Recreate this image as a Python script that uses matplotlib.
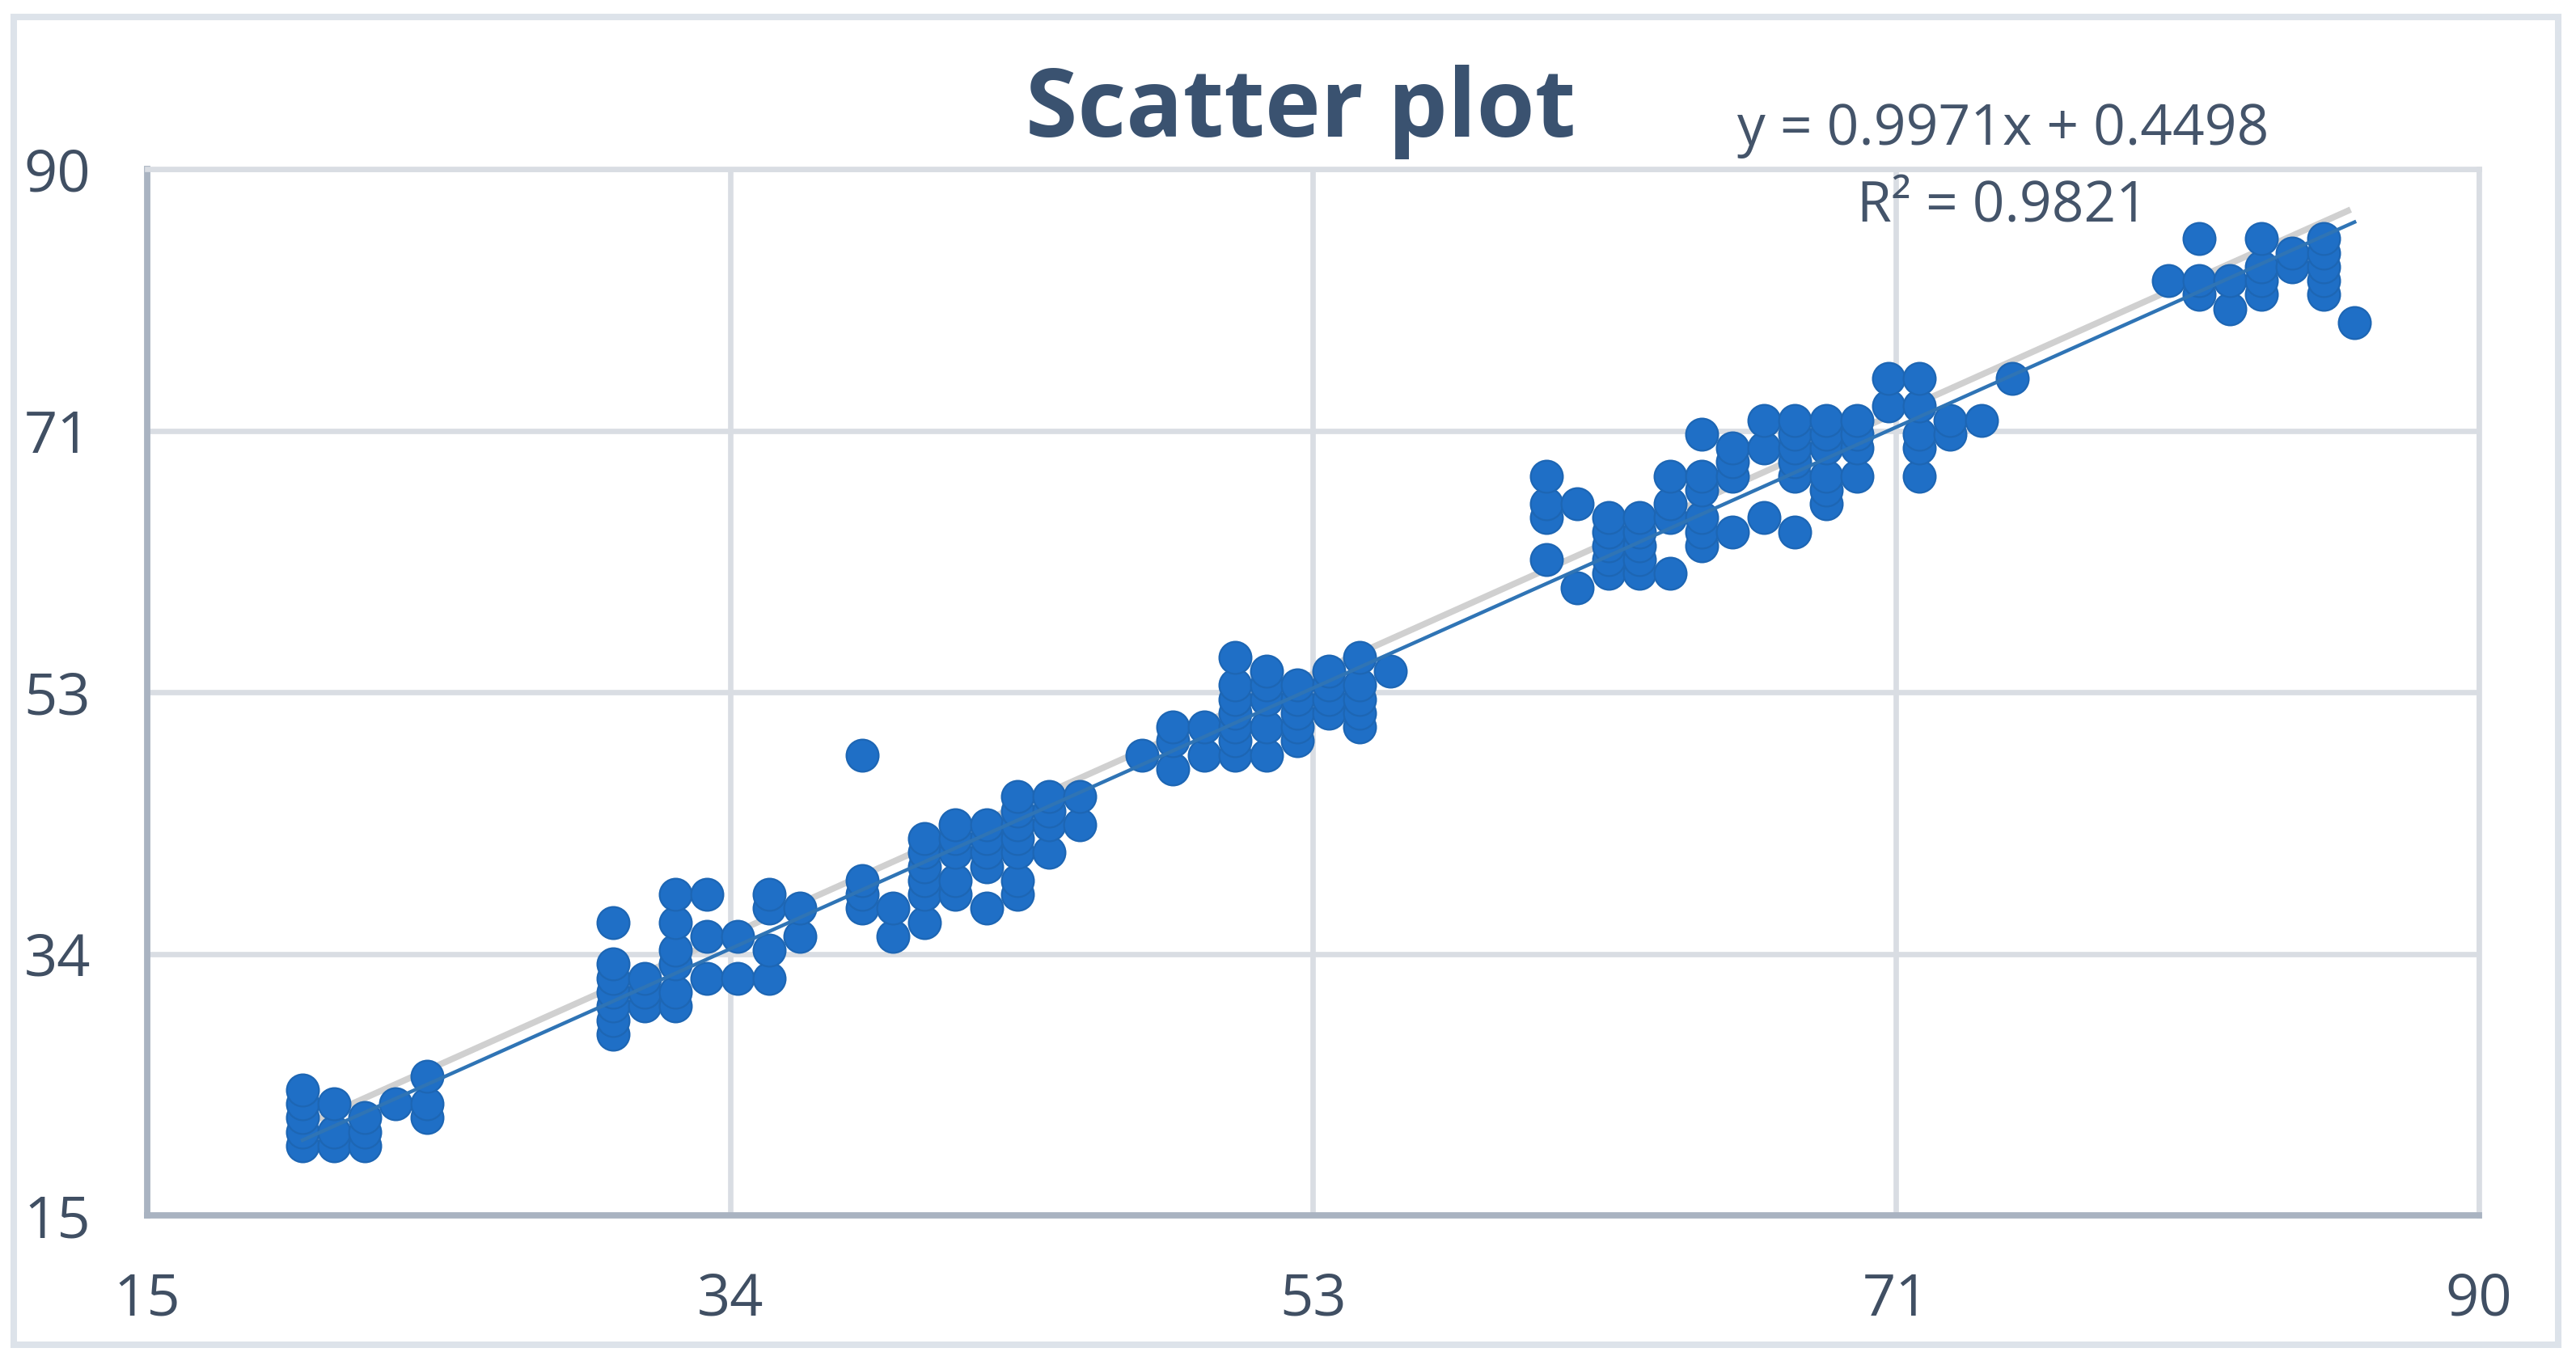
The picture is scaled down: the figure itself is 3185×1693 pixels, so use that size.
import numpy as np
import matplotlib
matplotlib.use("Agg")
import matplotlib.pyplot as plt
from matplotlib.transforms import offset_copy
from matplotlib.patches import Rectangle

# data, one column of points per x value
x_cols = [20, 21, 22, 23, 24,
          30, 31, 32, 33, 34, 35, 36, 38, 39,
          40, 41, 42, 43, 44, 45, 47,
          48, 49, 50, 51, 52, 53, 54, 55,
          60, 61, 62, 63, 64, 65, 66, 67, 68, 69, 70, 71, 72, 73, 74, 75,
          80, 81, 82, 83, 84, 85, 86]
y_cols = [[20, 21, 22, 23, 24], [20, 21, 23], [20, 21, 22], [23], [22, 23, 25],
          [28, 29, 30, 31, 32, 33, 36], [30, 31, 32], [30, 31, 33, 34, 36, 38],
          [32, 35, 38], [32, 35], [32, 34, 37, 38], [35, 37], [37, 38, 39, 48], [35, 37],
          [36, 38, 39, 40, 41, 42], [38, 39, 41, 42, 43], [37, 40, 41, 42, 43],
          [38, 39, 41, 42, 43, 44, 45], [41, 43, 44, 45], [43, 45], [48],
          [47, 49, 50], [48, 50], [48, 49, 50, 51, 52, 53, 55], [48, 50, 52, 53, 54],
          [49, 50, 51, 52, 53], [51, 52, 53, 54], [50, 51, 52, 53, 55], [54],
          [62, 65, 66, 68], [60, 66], [61, 62, 63, 64, 65], [61, 62, 63, 64, 65],
          [61, 65, 66, 68], [63, 64, 65, 67, 68, 71], [64, 68, 69, 70], [65, 70, 72],
          [64, 68, 69, 70, 71, 72], [66, 67, 68, 70, 71, 72], [68, 70, 71, 72],
          [73, 75], [68, 70, 71, 73, 75], [71, 72], [72], [75],
          [82], [81, 82, 85], [80, 82], [81, 82, 83, 85], [83, 84], [81, 82, 83, 84, 85], [79]]

slope = 0.9971
intercept = 0.4498
r_squared = 0.9821

tick_values = np.linspace(15, 90, 5)
tick_labels = ["15", "34", "53", "71", "90"]

x = []
y = []
for xc, ys in zip(x_cols, y_cols):
    for yv in ys:
        x.append(xc)
        y.append(yv)
x = np.array(x)
y = np.array(y)

fig = plt.figure(figsize=(15.925, 8.465), dpi=200)
ax = fig.add_axes([0.0571, 0.1122, 0.9052, 0.7643])

text_col = "#404f63"
grid_col = "#d9dde3"
spine_col = "#a9b3c1"

ax.set_xlim(15, 90)
ax.set_ylim(15, 90)
ax.set_xticks(tick_values)
ax.set_xticklabels(tick_labels)
ax.set_yticks(tick_values)
ax.set_yticklabels(tick_labels)
ax.tick_params(length=0, labelsize=26, labelcolor=text_col)
ax.tick_params(axis="y", pad=25)
ax.tick_params(axis="x", pad=25)
for lab in ax.get_xticklabels() + ax.get_yticklabels():
    lab.set_family("Open Sans")

ax.grid(True, color=grid_col, linewidth=2.4, zorder=0)
ax.set_axisbelow(True)
for side in ["top", "right"]:
    ax.spines[side].set_color(grid_col)
    ax.spines[side].set_linewidth(2.4)
for side in ["left", "bottom"]:
    ax.spines[side].set_color(spine_col)
    ax.spines[side].set_linewidth(2.8)

# trendline with its grey shadow
fit_x = np.array([x.min(), x.max()])
fit_y = slope * fit_x + intercept
shadow = offset_copy(ax.transData, fig=fig, x=-3, y=5, units="points")
ax.plot(fit_x, fit_y, color="#d0d0d0", linewidth=2.8, transform=shadow, zorder=2)

ax.scatter(x, y, s=205, color="#1f6fc6", edgecolors="#1d66b4", linewidths=0.8, zorder=3)

ax.plot(fit_x, fit_y, color="#2f74b5", linewidth=1.6, zorder=4)

fig.text(0.505, 0.9002, "Scatter plot", ha="center", va="baseline",
         fontsize=42, fontweight="bold", color="#3a5270", family="Open Sans")
fig.text(0.7775, 0.8943, "y = %.4fx + %.4f" % (slope, intercept), ha="center", va="baseline",
         fontsize=25, color="#44546a", family="Open Sans")
fig.text(0.7775, 0.838, "R² = %.4f" % r_squared, ha="center", va="baseline",
         fontsize=25, color="#44546a", family="Open Sans")

# outer chart frame
fig.patches.append(Rectangle((0.0052, 0.0177), 0.988, 0.97, transform=fig.transFigure,
                             fill=False, edgecolor="#dde3ea", linewidth=2.9))

fig.savefig("out.png", dpi=200, facecolor="white")
